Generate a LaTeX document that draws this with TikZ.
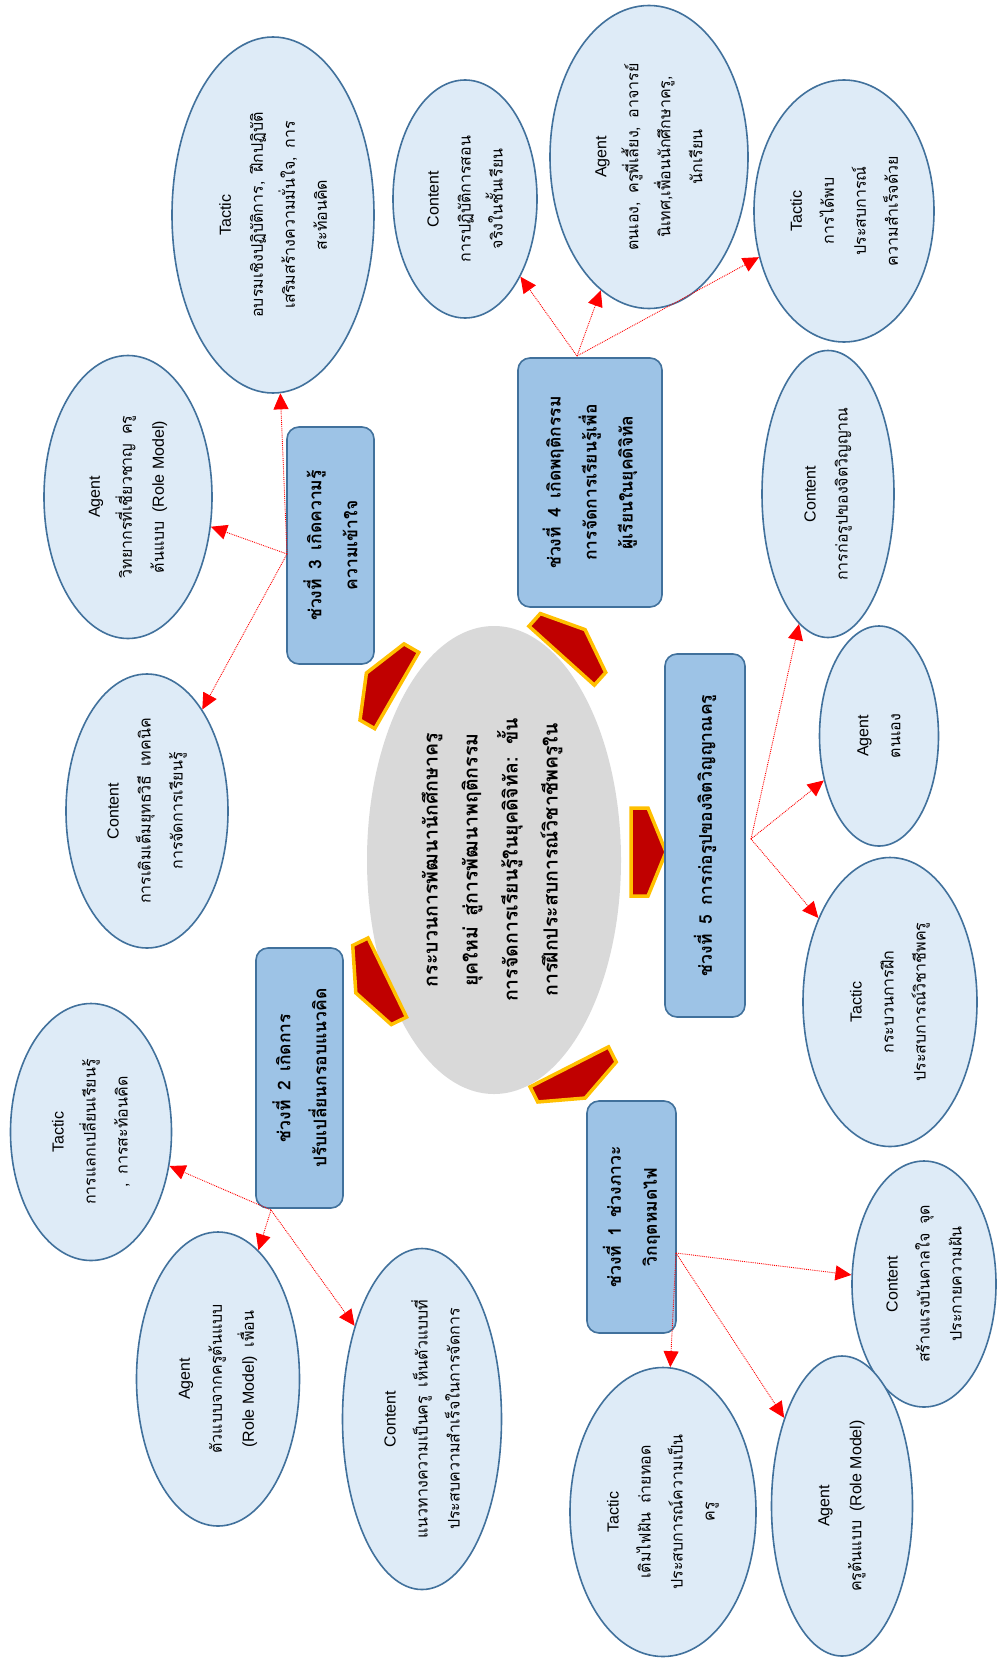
\documentclass[tikz,border=0pt]{standalone}
\usepackage{fontspec}
\setmainfont{Liberation Sans}
\newfontfamily\thf[Script=Thai,WordSpace=1.6]{Loma}
\newfontfamily\lat{Liberation Sans}
\usetikzlibrary{arrows.meta,shapes.geometric}
\definecolor{ellfill}{HTML}{DEEBF7}
\definecolor{ellline}{HTML}{41719C}
\definecolor{boxfill}{HTML}{9DC3E6}
\definecolor{corefill}{HTML}{D9D9D9}
\definecolor{chevred}{HTML}{C00000}
\definecolor{chevgold}{HTML}{FFC000}
\newcommand\hd[1]{{\lat\fontsize{16}{32}\selectfont #1}}
\newcommand\rl{{\lat (Role Model)}}
\newcommand\mychev[3]{\begin{scope}[shift={(#1,#2)},rotate=#3]
\path[chev] (-17,-44) -- (0,-44) -- (18,0) -- (0,44) -- (-17,44) -- cycle;
\end{scope}}
\begin{document}
\begin{tikzpicture}[x=1pt,y=-1pt,
 ell/.style={ellipse, draw=ellline, line width=1.6pt, fill=ellfill, inner sep=0pt},
 stage/.style={rectangle, rounded corners=12pt, draw=ellline, line width=1.6pt, fill=boxfill, inner sep=0pt},
 elltext/.style={rotate=90, align=center, font=\thf\fontsize{16}{32}\selectfont},
 stagetext/.style={rotate=90, align=center, font=\thf\bfseries\fontsize{17.5}{36}\selectfont},
 coretext/.style={rotate=90, align=center, font=\thf\bfseries\fontsize{19.5}{40}\selectfont},
 conn/.style={draw=red, densely dotted, line width=0.9pt, -{Triangle[length=16pt,width=15pt,fill=red]}},
 chev/.style={fill=chevred, draw=chevgold, line width=3.5pt, line join=miter}
]
\useasboundingbox[fill=white] (0,0) rectangle (997,1664);

% center
\node[ellipse, fill=corefill, minimum width=254pt, minimum height=468pt, inner sep=0pt] (core) at (494,860) {};
\node[coretext] (coretx) at ([xshift=-2pt]core.center) {กระบวนการพัฒนานักศึกษาครู\\ยุคใหม่ สู่การพัฒนาพฤติกรรม\\การจัดการเรียนรู้ในยุคดิจิทัล: ขั้น\\การฝึกประสบการณ์วิชาชีพครูใน};

% chevrons
\mychev{382}{682}{150}
\mychev{573}{643}{48}
\mychev{648}{852}{0}
\mychev{577}{1082}{-63}
\mychev{372}{985}{-154}

% stage boxes
\node[stage, minimum width=87pt, minimum height=237pt] (s3) at (330.5,545.5) {};
\node[stagetext] (s3t) at (s3) {ช่วงที่ 3 เกิดความรู้\\ความเข้าใจ};
\node[stage, minimum width=87pt, minimum height=260pt] (s2) at (299.5,1078) {};
\node[stagetext] (s2t) at (s2) {ช่วงที่ 2 เกิดการ\\ปรับเปลี่ยนกรอบแนวคิด};
\node[stage, minimum width=144pt, minimum height=249pt] (s4) at (590,482.5) {};
\node[stagetext] (s4t) at (s4) {ช่วงที่ 4 เกิดพฤติกรรม\\การจัดการเรียนรู้เพื่อ\\ผู้เรียนในยุคดิจิทัล};
\node[stage, minimum width=80pt, minimum height=363pt] (s5) at (705,835.5) {};
\node[stagetext] (s5t) at (s5) {ช่วงที่ 5 การก่อรูปของจิตวิญญาณครู};
\node[stage, minimum width=89pt, minimum height=232pt] (s1) at (631.5,1217) {};
\node[stagetext] (s1t) at (s1) {ช่วงที่ 1 ช่วงภาวะ\\วิกฤตหมดไฟ};

% ellipses stage 3
\node[ell, minimum width=162pt, minimum height=274pt] (c3) at (147,811) {};
\node[elltext] at (c3) {\hd{Content}\\การเติมเต็มยุทธวิธี เทคนิค\\การจัดการเรียนรู้};
\node[ell, minimum width=168pt, minimum height=283pt] (a3) at (128,497) {};
\node[elltext] at (a3) {\hd{Agent}\\วิทยากรที่เชี่ยวชาญ ครู\\ต้นแบบ \rl};
\node[ell, minimum width=202pt, minimum height=356pt] (t3) at (273,215) {};
\node[elltext] at (t3) {\hd{Tactic}\\อบรมเชิงปฏิบัติการ, ฝึกปฏิบัติ\\เสริมสร้างความมั่นใจ, การ\\สะท้อนคิด};

% ellipses stage 4
\node[ell, minimum width=144pt, minimum height=238pt] (c4) at (465,199) {};
\node[elltext] at (c4) {\hd{Content}\\การปฏิบัติการสอน\\จริงในชั้นเรียน};
\node[ell, minimum width=198pt, minimum height=303pt] (a4) at (649,157) {};
\node[elltext] at (a4) {\hd{Agent}\\ตนเอง, ครูพี่เลี้ยง, อาจารย์\\นิเทศ,เพื่อนนักศึกษาครู,\\นักเรียน};
\node[ell, minimum width=180pt, minimum height=262pt] (t4) at (844,211) {};
\node[elltext] at (t4) {\hd{Tactic}\\การได้พบ\\ประสบการณ์\\ความสำเร็จด้วย};

% ellipses stage 5
\node[ell, minimum width=132pt, minimum height=287pt] (c5) at (828,494) {};
\node[elltext] at (c5) {\hd{Content}\\การก่อรูปของจิตวิญญาณ};
\node[ell, minimum width=119pt, minimum height=220pt] (a5) at (879,736) {};
\node[elltext] at (a5) {\hd{Agent}\\ตนเอง};
\node[ell, minimum width=174pt, minimum height=289pt] (t5) at (890,1002) {};
\node[elltext] at (t5) {\hd{Tactic}\\กระบวนการฝึก\\ประสบการณ์วิชาชีพครู};

% ellipses stage 1
\node[ell, minimum width=144pt, minimum height=246pt] (c1) at (924,1284) {};
\node[elltext] at (c1) {\hd{Content}\\สร้างแรงบันดาลใจ จุด\\ประกายความฝัน};
\node[ell, minimum width=141pt, minimum height=300pt] (a1) at (842,1506) {};
\node[elltext] at (a1) {\hd{Agent}\\ครูต้นแบบ \rl};
\node[ell, minimum width=186pt, minimum height=289pt] (t1) at (663,1512) {};
\node[elltext] at (t1) {\hd{Tactic}\\เติมไฟฝัน ถ่ายทอด\\ประสบการณ์ความเป็น\\ครู};

% ellipses stage 2
\node[ell, minimum width=161pt, minimum height=257pt] (t2) at (91,1132) {};
\node[elltext] at (t2) {\hd{Tactic}\\การแลกเปลี่ยนเรียนรู้\\, การสะท้อนคิด};
\node[ell, minimum width=163pt, minimum height=294pt] (a2) at (218,1379) {};
\node[elltext] at (a2) {\hd{Agent}\\ตัวแบบจากครูต้นแบบ\\\rl{} เพื่อน};
\node[ell, minimum width=159pt, minimum height=341pt] (c2) at (422,1419) {};
\node[elltext] at (c2) {\hd{Content}\\แนวทางความเป็นครู เห็นตัวแบบที่\\ประสบความสำเร็จในการจัดการ};

% connector origins
\coordinate (o3) at (287,554);
\coordinate (o2) at (271,1210);
\coordinate (o4) at (577,356);
\coordinate (o5) at (751,839);
\coordinate (o1) at (676,1253);

\draw[conn] (o3) -- (c3);
\draw[conn] (o3) -- (a3);
\draw[conn] (o3) -- (t3);
\draw[conn] (o2) -- (t2);
\draw[conn] (o2) -- (a2);
\draw[conn] (o2) -- (c2);
\draw[conn] (o4) -- (c4);
\draw[conn] (o4) -- (a4);
\draw[conn] (o4) -- (t4);
\draw[conn] (o5) -- (c5);
\draw[conn] (o5) -- (a5);
\draw[conn] (o5) -- (t5);
\draw[conn] (o1) -- (c1);
\draw[conn] (o1) -- (a1);
\draw[conn] (o1) -- (t1);
\end{tikzpicture}
\end{document}
